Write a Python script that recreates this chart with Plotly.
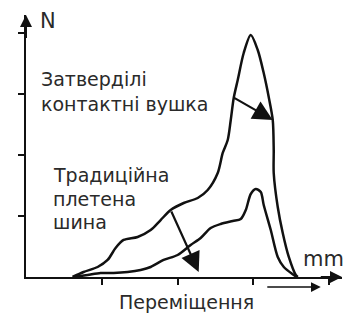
import plotly.graph_objects as go

# Data (displacement in tick units, force in tick units)
cured_x = [0.614, 0.760, 0.945, 1.077, 1.182, 1.288, 1.473, 1.645, 1.777, 1.909, 2.081, 2.266,
           2.398, 2.530, 2.596, 2.662, 2.702, 2.741, 2.794, 2.873, 2.966, 3.058, 3.137, 3.203,
           3.256, 3.269, 3.269, 3.322, 3.388, 3.468, 3.560, 3.587]
cured_y = [0.0, 0.082, 0.164, 0.279, 0.475, 0.607, 0.656, 0.770, 0.934, 1.098, 1.213, 1.295,
           1.426, 1.705, 2.033, 2.246, 2.574, 2.934, 3.230, 3.672, 3.967, 3.721, 3.344, 2.951,
           2.574, 2.082, 1.705, 1.148, 0.721, 0.328, 0.033, 0.0]

braided_x = [0.627, 0.812, 0.984, 1.156, 1.341, 1.513, 1.645, 1.816, 2.001, 2.173, 2.305, 2.437,
             2.569, 2.728, 2.834, 2.900, 2.966, 3.032, 3.098, 3.137, 3.230, 3.322, 3.402, 3.534, 3.573]
braided_y = [0.0, 0.033, 0.066, 0.066, 0.082, 0.115, 0.164, 0.279, 0.361, 0.525, 0.639, 0.803,
             0.869, 0.918, 0.951, 1.098, 1.361, 1.443, 1.393, 1.180, 0.770, 0.328, 0.164, 0.033, 0.0]

tick_vals = [1, 2, 3, 4]

labels = {
    "cured": ["Затверділі", "контактні вушка"],
    "braided": ["Традиційна", "плетена", "шина"],
    "x": "Переміщення",
    "x_unit": "mm",
    "y_unit": "N",
}

X_MAX = 4.17
Y_MAX = 4.295
TEXT = "#2a2a2a"
FONT = "DejaVu Sans"

fig = go.Figure()
for xs, ys in [(cured_x, cured_y), (braided_x, braided_y)]:
    fig.add_trace(go.Scatter(x=xs, y=ys, mode="lines",
                             line=dict(color="#111111", width=2.5, shape="spline", smoothing=0.8),
                             hoverinfo="skip", showlegend=False, cliponaxis=False))

ann = []
# axis arrowheads
ann.append(dict(x=X_MAX, y=0, ax=X_MAX - 0.3, ay=0, xref="x", yref="y", axref="x", ayref="y",
                showarrow=True, arrowhead=2, arrowsize=1.2, arrowwidth=2, arrowcolor="#111111",
                text="", standoff=0))
ann.append(dict(x=0, y=Y_MAX, ax=0, ay=Y_MAX - 0.4, xref="x", yref="y", axref="x", ayref="y",
                showarrow=True, arrowhead=2, arrowsize=1.2, arrowwidth=2, arrowcolor="#111111",
                text="", standoff=0))
# small direction arrow under x-axis
ann.append(dict(x=3.89, y=0, ax=3.164, ay=0, xref="x", yref="y", axref="x", ayref="y", yshift=-10,
                showarrow=True, arrowhead=2, arrowsize=1.3, arrowwidth=1.5, arrowcolor="#111111",
                text="", standoff=0))
# curve arrows
ann.append(dict(x=3.256, y=2.574, ax=2.728, ay=2.951, xref="x", yref="y", axref="x", ayref="y",
                showarrow=True, arrowhead=2, arrowsize=1.8, arrowwidth=2.2, arrowcolor="#111111",
                text="", standoff=0))
ann.append(dict(x=2.279, y=0.082, ax=1.909, ay=1.098, xref="x", yref="y", axref="x", ayref="y",
                showarrow=True, arrowhead=2, arrowsize=1.8, arrowwidth=2.2, arrowcolor="#111111",
                text="", standoff=0))

def txt(s, x, y, size, xanchor="left", yshift=0):
    return dict(x=x, y=y, xref="x", yref="y", text=s, showarrow=False, xanchor=xanchor,
                yanchor="middle", yshift=yshift, font=dict(family=FONT, size=size, color=TEXT))

ann.append(txt(labels["cured"][0], 0.178, 3.251, 19))
ann.append(txt(labels["cured"][1], 0.178, 2.841, 19))
ann.append(txt(labels["braided"][0], 0.324, 1.677, 19))
ann.append(txt(labels["braided"][1], 0.324, 1.284, 19))
ann.append(txt(labels["braided"][2], 0.324, 0.907, 19))
ann.append(txt(labels["x_unit"], 3.63, 0.302, 21))
ann.append(txt(labels["y_unit"], 0.16, 4.197, 21))
ann.append(txt(labels["x"], 2.12, 0, 19, xanchor="center", yshift=-25))

axis_common = dict(showgrid=False, zeroline=False, showline=True, linecolor="#111111", linewidth=2,
                   ticks="outside", tickvals=tick_vals, ticklen=6, tickwidth=1.5,
                   tickcolor="#111111", showticklabels=False, fixedrange=True)

fig.update_layout(
    width=349, height=314,
    margin=dict(l=26, r=7, t=15, b=37),
    paper_bgcolor="white", plot_bgcolor="white",
    xaxis=dict(range=[0, X_MAX], **axis_common),
    yaxis=dict(range=[0, Y_MAX], **axis_common),
    annotations=ann,
)

fig.write_html("out.html", post_script="document.body.style.margin='0';document.body.style.overflow='hidden';",
               config={"displayModeBar": False})
